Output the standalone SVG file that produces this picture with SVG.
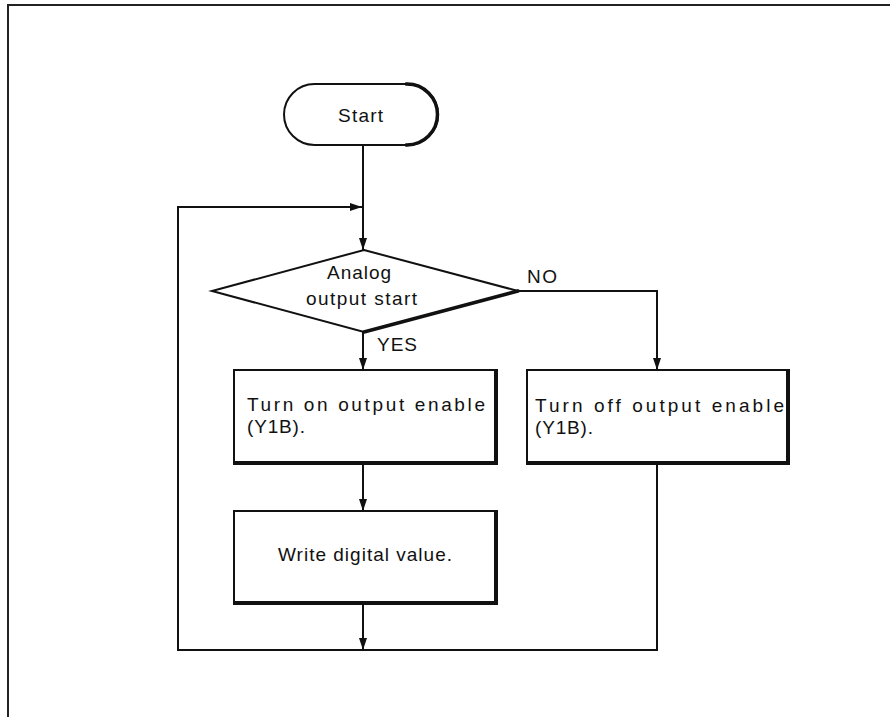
<svg xmlns="http://www.w3.org/2000/svg" width="891" height="717" viewBox="0 0 891 717">
<defs>
<style>
.t{font-family:"Liberation Sans",Arial,sans-serif;font-size:19px;fill:#111;}
.box{fill:#fff;stroke:#111;stroke-width:2;}
.sh{fill:none;stroke:#111;stroke-width:4;stroke-linecap:square;}
.c{fill:none;stroke:#111;stroke-width:2;}
</style>
<marker id="ah" markerUnits="userSpaceOnUse" viewBox="0 0 12 8" refX="12" refY="4" markerWidth="12" markerHeight="8" orient="auto">
<path d="M0,0 L12,4 L0,8 z" fill="#111"/>
</marker>
</defs>
<rect width="891" height="717" fill="#fff"/>
<g id="frame">
<path d="M8,717 V5 H890" fill="none" stroke="#222" stroke-width="2"/>
</g>
<g id="connectors">
<path class="c" d="M363,145 V250" marker-end="url(#ah)"/>
<path class="c" d="M363,332 V370" marker-end="url(#ah)"/>
<path class="c" d="M363,463 V511" marker-end="url(#ah)"/>
<path class="c" d="M363,603 V650" marker-end="url(#ah)"/>
<path class="c" d="M518,291 H657 V370" marker-end="url(#ah)"/>
<path class="c" d="M657,463 V650 H178 V207 H362" marker-end="url(#ah)"/>
<text class="t" x="527" y="283" textLength="30">NO</text>
<text class="t" x="377" y="351" textLength="40">YES</text>
</g>
<g id="start">
<rect class="box" x="284" y="84" width="154" height="61" rx="30.5"/>
<path class="sh" d="M407,84 A30.5,30.5 0 0 1 407,145" style="stroke-width:3.5"/>
<text class="t" x="338" y="122" textLength="45">Start</text>
</g>
<g id="decision">
<polygon class="box" points="364,250 518,291 364,332 212,291"/>
<path class="sh" d="M518,291 L364,332" style="stroke-width:3.5;stroke-linecap:round"/>
<text class="t" x="327" y="279" textLength="64">Analog</text>
<text class="t" x="306" y="305" textLength="111">output start</text>
</g>
<g id="turn-on">
<rect class="box" x="234" y="370" width="262" height="93"/>
<path class="sh" d="M496,371 V463 H235"/>
<text class="t" x="247" y="411" textLength="238" lengthAdjust="spacing">Turn on output enable</text>
<text class="t" x="247" y="433" textLength="58" lengthAdjust="spacing">(Y1B).</text>
</g>
<g id="write">
<rect class="box" x="234" y="511" width="262" height="92"/>
<path class="sh" d="M496,512 V603 H235"/>
<text class="t" x="278" y="561" textLength="174" lengthAdjust="spacing">Write digital value.</text>
</g>
<g id="turn-off">
<rect class="box" x="527" y="370" width="261" height="93"/>
<path class="sh" d="M788,371 V463 H528"/>
<text class="t" x="535" y="412" textLength="249" lengthAdjust="spacing">Turn off output enable</text>
<text class="t" x="535" y="434" textLength="58" lengthAdjust="spacing">(Y1B).</text>
</g>
</svg>
